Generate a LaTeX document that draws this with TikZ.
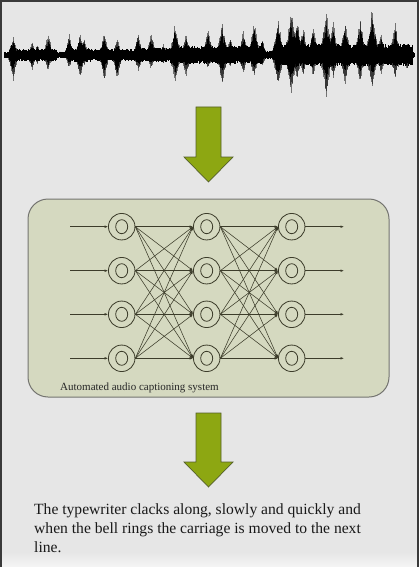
\documentclass[tikz,border=0pt]{standalone}
\usepackage{fontspec}
\setmainfont{Liberation Serif}
\usetikzlibrary{arrows.meta}
\definecolor{bg}{HTML}{E6E6E6}
\definecolor{boxfill}{HTML}{D5D9C0}
\definecolor{boxline}{HTML}{747470}
\definecolor{arrowgreen}{HTML}{8DA712}
\definecolor{arrowline}{HTML}{55602A}
\definecolor{netline}{HTML}{3C3C2A}
\definecolor{frameline}{HTML}{3A3A3A}
\tikzset{
  neuron/.style={circle, draw=netline, line width=0.8pt, minimum size=26.5pt, inner sep=0pt},
  conn/.style={draw=netline, line width=0.55pt, -{Latex[length=3.5pt,width=2.6pt]}},
  bigarrow/.style={fill=arrowgreen, draw=arrowline, line width=0.7pt},
  wave/.style={line width=0.7pt, black},
  spike/.style={line width=0.6pt, black, opacity=0.5},
  spikecore/.style={line width=0.6pt, black},
}
\begin{document}
\begin{tikzpicture}[x=1pt,y=-1pt]
\useasboundingbox (0,0) rectangle (419,567);
\fill[bg] (0,0) rectangle (419,567);
\shade[top color=bg, bottom color=black!4] (0,552) rectangle (419,567);
\draw[frameline, line width=1.6pt] (0.8,567) -- (0.8,0.8) -- (418.2,0.8) -- (418.2,567);

% ---------- waveform ----------
\pgfmathsetseed{12}
\foreach \a/\b/\amp in {4/10/3, 10/56/6, 56/68/3.5, 68/92/7, 92/140/6, 140/170/7, 170/262/9, 262/276/4, 276/412/11, 412/414/3}{
  \pgfmathsetmacro\an{\a+0.5}
  \foreach \x in {\a,\an,...,\b}{
    \pgfmathsetmacro\u{\amp*(0.6+0.4*rnd)}
    \pgfmathsetmacro\d{\amp*(0.6+0.4*rnd)}
    \draw[wave] (\x,55-\u) -- (\x,55+\d);
  }
}
\foreach \px/\up/\dn/\w in {13/20/27/7, 32/13/17/6, 37/12/10/5, 48/22/17/7, 69/22/15/6, 80/23/25/7, 84/19/12/5,
  104/23/28/7, 117/17/28/7, 138/22/18/7, 151/22/15/7, 163/13/10/6, 175/32/28/8, 186/22/23/7,
  208/28/15/7, 222/32/30/8, 230/18/14/6, 243/25/20/7, 254/35/23/8, 262/18/12/6,
  278/38/35/8, 291/48/40/9, 297/38/25/7, 303/30/22/7, 313/30/22/7, 326/45/42/9, 333/35/25/7,
  345/33/30/8, 360/38/27/8, 372/47/35/9, 381/23/20/7, 395/32/25/8, 407/13/15/6}{
  \pgfmathsetmacro\wn{-\w+0.5}
  \foreach \k in {-\w,\wn,...,\w}{
    \pgfmathsetmacro\f{(1-abs(\k)/\w)^1.6}
    \pgfmathsetmacro\u{\up*\f*(0.7+0.3*rnd)}
    \pgfmathsetmacro\d{\dn*\f*(0.7+0.3*rnd)}
    \draw[spike] (\px+\k,55-\u) -- (\px+\k,55+\d);
    \pgfmathsetmacro\uc{0.75*\up*\f*(0.6+0.4*rnd)}
    \pgfmathsetmacro\dc{0.62*\dn*\f*(0.6+0.4*rnd)}
    \draw[spikecore] (\px+\k,55-\uc) -- (\px+\k,55+\dc);
  }
}

% ---------- arrows ----------
\draw[bigarrow] (196,107) -- (221,107) -- (221,157) -- (233,157) -- (208.5,182) -- (184,157) -- (196,157) -- cycle;
\draw[bigarrow] (196,413) -- (221,413) -- (221,462) -- (233,462) -- (208.5,487) -- (184,462) -- (196,462) -- cycle;

% ---------- system box ----------
\draw[fill=boxfill, draw=boxline, line width=1pt, rounded corners=20pt] (28,199) rectangle (389,397);

% ---------- network ----------
\foreach \c/\cx in {1/121.7, 2/206.7, 3/291.7}{
  \foreach \r/\ry in {1/226.7, 2/270.7, 3/314.3, 4/358.3}{
    \node[neuron] (n\c\r) at (\cx,\ry) {};
    \draw[netline, line width=0.8pt] (n\c\r.center) ellipse [x radius=6pt, y radius=7pt];
  }
}
\foreach \r/\ry in {1/226.7, 2/270.7, 3/314.3, 4/358.3}{
  \coordinate (in\r) at (70,\ry);
  \coordinate (out\r) at (344,\ry);
  \draw[conn] (in\r) -- (n1\r.west);
  \draw[conn] (n3\r.east) -- (out\r);
}
\foreach \s in {1,2,3,4}{
  \foreach \t in {1,2,3,4}{
    \draw[conn] (n1\s.east) -- (n2\t.west);
    \draw[conn] (n2\s.east) -- (n3\t.west);
  }
}
\node[anchor=base west, inner sep=0pt, font=\fontsize{11}{12}\selectfont, text=black!85] (lbl) at (60,390) {Automated audio captioning system};

% ---------- caption text ----------
\node[anchor=north west, inner sep=0pt, align=left, font=\fontsize{15.6}{19}\selectfont, text=black!90] (cap) at (34,503.5)
  {The typewriter clacks along, slowly and quickly and\\when the bell rings the carriage is moved to the next\\line.};
\end{tikzpicture}
\end{document}
